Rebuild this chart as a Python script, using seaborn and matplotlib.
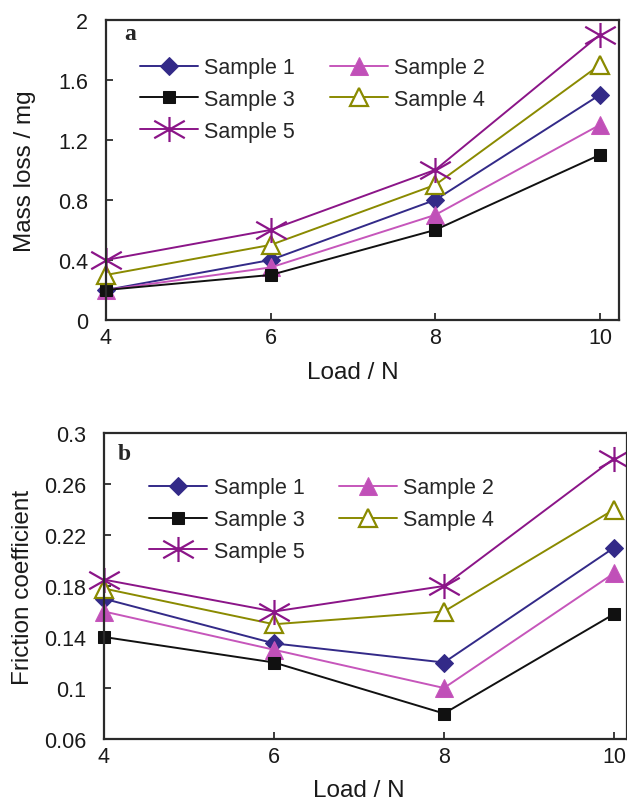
import numpy as np
import pandas as pd
import matplotlib
matplotlib.use("Agg")
import matplotlib.pyplot as plt
from matplotlib.path import Path
import seaborn as sns

# data
load = [4, 6, 8, 10]
samples = ["Sample 1", "Sample 2", "Sample 3", "Sample 4", "Sample 5"]

mass_s1 = [0.2, 0.4, 0.8, 1.5]
mass_s2 = [0.2, 0.35, 0.7, 1.3]
mass_s3 = [0.2, 0.3, 0.6, 1.1]
mass_s4 = [0.3, 0.5, 0.9, 1.7]
mass_s5 = [0.4, 0.6, 1.0, 1.9]

fric_s1 = [0.17, 0.135, 0.12, 0.21]
fric_s2 = [0.16, 0.13, 0.10, 0.19]
fric_s3 = [0.14, 0.12, 0.08, 0.158]
fric_s4 = [0.178, 0.15, 0.16, 0.24]
fric_s5 = [0.185, 0.16, 0.18, 0.28]

mass_ticks = [0, 0.4, 0.8, 1.2, 1.6, 2]
fric_ticks = [0.06, 0.1, 0.14, 0.18, 0.22, 0.26, 0.3]

sns.set_style("ticks")
plt.rcParams["font.family"] = ["Liberation Sans", "DejaVu Sans"]

# asterisk marker: vertical arm plus two flat diagonals
star = Path([(0, -0.82), (0, 0.82), (-1, -0.57), (1, 0.57), (-1, 0.57), (1, -0.57)],
            [Path.MOVETO, Path.LINETO, Path.MOVETO, Path.LINETO, Path.MOVETO, Path.LINETO])

styles = {
    "Sample 1": dict(color="#332a88", marker="D", markersize=9, markerfacecolor="#332a88"),
    "Sample 2": dict(color="#c656bb", marker="^", markersize=13, markerfacecolor="#c050b8"),
    "Sample 3": dict(color="#111111", marker="s", markersize=8, markerfacecolor="#111111"),
    "Sample 4": dict(color="#8a8a00", marker="^", markersize=13, markerfacecolor="white",
                     markeredgewidth=1.6),
    "Sample 5": dict(color="#8b1588", marker=star, markersize=22, markerfacecolor="none",
                     markeredgewidth=1.6),
}

mass = pd.DataFrame({"load": load * 5,
                     "value": mass_s1 + mass_s2 + mass_s3 + mass_s4 + mass_s5,
                     "sample": np.repeat(samples, 4)})
fric = pd.DataFrame({"load": load * 5,
                     "value": fric_s1 + fric_s2 + fric_s3 + fric_s4 + fric_s5,
                     "sample": np.repeat(samples, 4)})

fig = plt.figure(figsize=(6.27, 8.03), dpi=100)
ax1 = fig.add_axes([106 / 627, 482 / 803, 513 / 627, 300.3 / 803])
ax2 = fig.add_axes([104 / 627, 63 / 803, 523 / 627, 306 / 803])


def draw(ax, df, ticks, ylabel, letter, xmax, leg_anchor, label_x, xlab_pos, letter_pos):
    for s in samples:
        st = dict(styles[s])
        sns.lineplot(data=df[df["sample"] == s], x="load", y="value", ax=ax, label=s,
                     linewidth=1.4, markeredgecolor=st["color"], clip_on=False, **st)
    ax.set_xlim(4, xmax)
    ax.set_ylim(ticks[0], ticks[-1])
    ax.set_xticks(load)
    ax.set_yticks(ticks)
    ax.set_yticklabels(["%g" % t for t in ticks])
    ax.tick_params(axis="both", direction="in", length=5, width=1.2, labelsize=15.5,
                   colors="#1a1a1a")
    ax.tick_params(axis="y", pad=13)
    ax.tick_params(axis="x", pad=5)
    for sp in ax.spines.values():
        sp.set_linewidth(1.6)
        sp.set_color("#2a2a2a")
    ax.set_xlabel("Load / N", fontsize=17.5, color="#1a1a1a")
    ax.set_ylabel(ylabel, fontsize=17.5, color="#1a1a1a")
    ax.yaxis.set_label_coords(label_x, 0.5)
    ax.xaxis.set_label_coords(*xlab_pos)
    ax.text(letter_pos[0], letter_pos[1], letter, transform=ax.transAxes,
            fontfamily="Liberation Serif", fontweight="bold", fontsize=17)
    h, l = ax.get_legend_handles_labels()
    order = [0, 2, 4, 1, 3]
    ax.legend([h[i] for i in order], [l[i] for i in order], ncol=2, frameon=False,
              loc="upper left", bbox_to_anchor=leg_anchor, borderaxespad=0, borderpad=0,
              fontsize=15.5, handlelength=2.7, handletextpad=0.3, columnspacing=1.6,
              labelspacing=0.5)


draw(ax1, mass, mass_ticks, "Mass loss / mg", "a", 10.231, (0.066, 0.875),
     -0.136, (0.481, -0.137), (0.035, 0.936))
draw(ax2, fric, fric_ticks, "Friction coefficient", "b", 10.153, (0.086, 0.855),
     -0.134, (0.488, -0.131), (0.027, 0.915))

fig.savefig("out.png", dpi=100)
